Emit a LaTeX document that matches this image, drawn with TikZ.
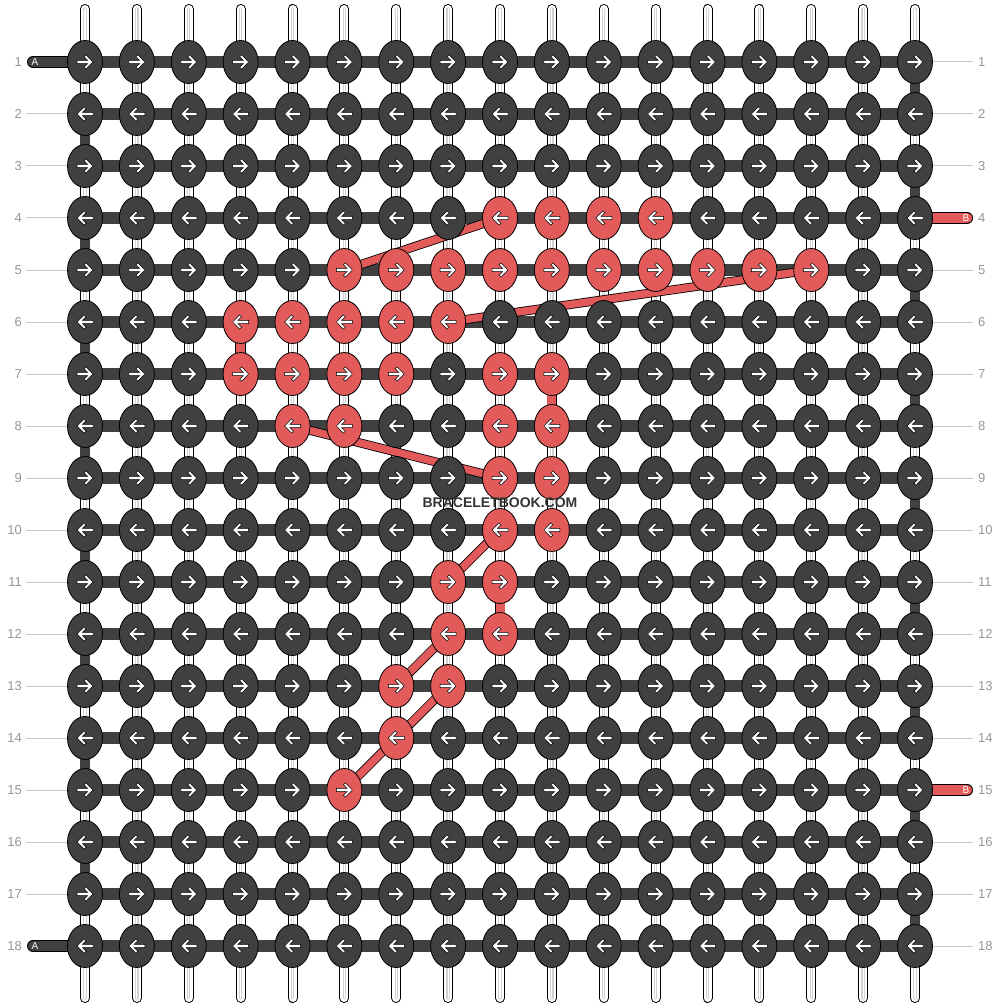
\documentclass[tikz,border=0pt]{standalone}
\usepackage{fontspec}
\setmainfont{Liberation Sans}
\usepackage{tikz}
\usetikzlibrary{shapes.geometric}
\definecolor{knot-dark}{RGB}{64,64,64}
\definecolor{knot-red}{RGB}{226,90,90}
\definecolor{label-grey}{RGB}{150,150,150}
\definecolor{guide-grey}{RGB}{200,200,200}

% red knots of the pattern (row-col)
\foreach \k in {4-9,4-10,4-11,4-12,
    5-6,5-7,5-8,5-9,5-10,5-11,5-12,5-13,5-14,5-15,
    6-4,6-5,6-6,6-7,6-8, 7-4,7-5,7-6,7-7,7-9,7-10,
    8-5,8-6,8-9,8-10, 9-9,9-10, 10-9,10-10, 11-8,11-9,
    12-8,12-9, 13-7,13-8, 14-7, 15-6}
  {\expandafter\gdef\csname red-\k\endcsname{}}

\tikzset{knotarrow/.pic={
    \path[fill=white, draw=black, line width=0.5pt]
      (-8,-1.7) -- (2.6,-1.7) -- (-1,-5.3) -- (1,-7.1) -- (8,0)
      -- (1,7.1) -- (-1,5.3) -- (2.6,1.7) -- (-8,1.7) -- cycle;}}

\begin{document}
\begin{tikzpicture}[x=1pt, y=-1pt,
    warp/.style={white, line width=8pt, line cap=round,
                 preaction={draw=black, line width=10pt, line cap=round},
                 postaction={draw=gray!35, line width=3.4pt, line cap=round},
                 postaction={draw=white, line width=1.2pt, line cap=round}},
    bar/.style={knot-dark, line width=12pt},
    edgebar/.style={knot-dark, line width=10pt},
    drop/.style={knot-red, line width=9pt,
                 preaction={draw=black, line width=10.6pt}},
    band/.style={knot-red, line width=7.4pt,
                 preaction={draw=black, line width=9pt}},
    tail/.style={line width=10.5pt, line cap=round,
                 preaction={draw=black, line width=12pt, line cap=round}},
    knot/.style={ellipse, draw=black, line width=0.8pt, inner sep=0pt,
                 minimum width=35pt, minimum height=43pt},
    rowlab/.style={text=label-grey, inner sep=0pt, font=\fontsize{13}{15}\selectfont},
    guide/.style={guide-grey, line width=1pt},
    tiplab/.style={text=white, inner sep=0pt, font=\fontsize{10}{12}\selectfont}]
  \useasboundingbox (0,0) rectangle (1000,1008);

  \foreach \row in {1,...,18}
    \foreach \col in {1,...,17}
      \coordinate (p-\row-\col) at ({85+(\col-1)*51.875}, {62+(\row-1)*52});

  % warp strings
  \foreach \col in {1,...,17} {
    \coordinate (top-\col) at ({85+(\col-1)*51.875}, 9);
    \coordinate (bot-\col) at ({85+(\col-1)*51.875}, 998);
    \draw[warp] (top-\col) -- (bot-\col);
  }

  % row numbers and guide lines
  \foreach \row in {1,...,18} {
    \node[rowlab, anchor=east] (ll-\row) at (22, {62+(\row-1)*52}) {\row};
    \node[rowlab, anchor=west] (rl-\row) at (978, {62+(\row-1)*52}) {\row};
  }
  \foreach \row in {2,...,17}
    \draw[guide] ([xshift=4pt]ll-\row.east) -- (p-\row-1);
  \foreach \row in {1,2,3,5,6,7,8,9,10,11,12,13,14,16,17,18}
    \draw[guide] (p-\row-17) -- ([xshift=-5pt]rl-\row.west);

  % weft
  \foreach \row in {1,...,18}
    \draw[bar] (p-\row-1) -- (p-\row-17);
  \foreach \row [evaluate=\row as \nxt using int(\row+1)] in {2,4,...,16}
    \draw[edgebar] (p-\row-1) -- (p-\nxt-1);
  \foreach \row [evaluate=\row as \nxt using int(\row+1)] in {1,3,...,17}
    \draw[edgebar] (p-\row-17) -- (p-\nxt-17);

  \draw[drop] (p-6-4) -- (p-7-4);
  \draw[drop] (p-7-10) -- (p-8-10);
  \draw[drop] (p-11-9) -- (p-12-9);

  \draw[band] (p-4-9) -- (p-5-6);
  \draw[band] (p-5-15) -- (p-6-8);
  \draw[band] (p-8-5) -- (p-9-9);
  \draw[band] (p-10-9) -- (p-11-8);
  \draw[band] (p-12-8) -- (p-13-7);
  \draw[band] (p-13-8) -- (p-14-7);
  \draw[band] (p-14-7) -- (p-15-6);

  % loose ends
  \coordinate (a-top) at (33,62);
  \coordinate (a-bot) at (33,946);
  \coordinate (b-top) at (967,218);
  \coordinate (b-bot) at (967,790);
  \draw[tail, knot-dark] (a-top) -- (p-1-1);
  \draw[tail, knot-dark] (a-bot) -- (p-18-1);
  \draw[tail, knot-red] (p-4-17) -- (b-top);
  \draw[tail, knot-red] (p-15-17) -- (b-bot);
  \node[tiplab] (a1) at (35,62) {A};
  \node[tiplab] (a2) at (35,946) {A};
  \node[tiplab] (b1) at (966,218) {B};
  \node[tiplab] (b2) at (966,790) {B};

  % knots
  \foreach \row in {1,...,18}
    \foreach \col in {1,...,17} {
      \ifcsname red-\row-\col\endcsname \def\kfill{knot-red}\else \def\kfill{knot-dark}\fi
      \ifodd\row \def\adir{1}\else \def\adir{-1}\fi
      \node[knot, fill=\kfill] (k-\row-\col) at (p-\row-\col) {};
      \pic[xscale=\adir] at (k-\row-\col) {knotarrow};
    }

  \node[text=black!80, font=\bfseries\fontsize{14}{16}\selectfont, inner sep=0pt]
    (site) at (500,503) {BRACELETBOOK.COM};
\end{tikzpicture}
\end{document}
